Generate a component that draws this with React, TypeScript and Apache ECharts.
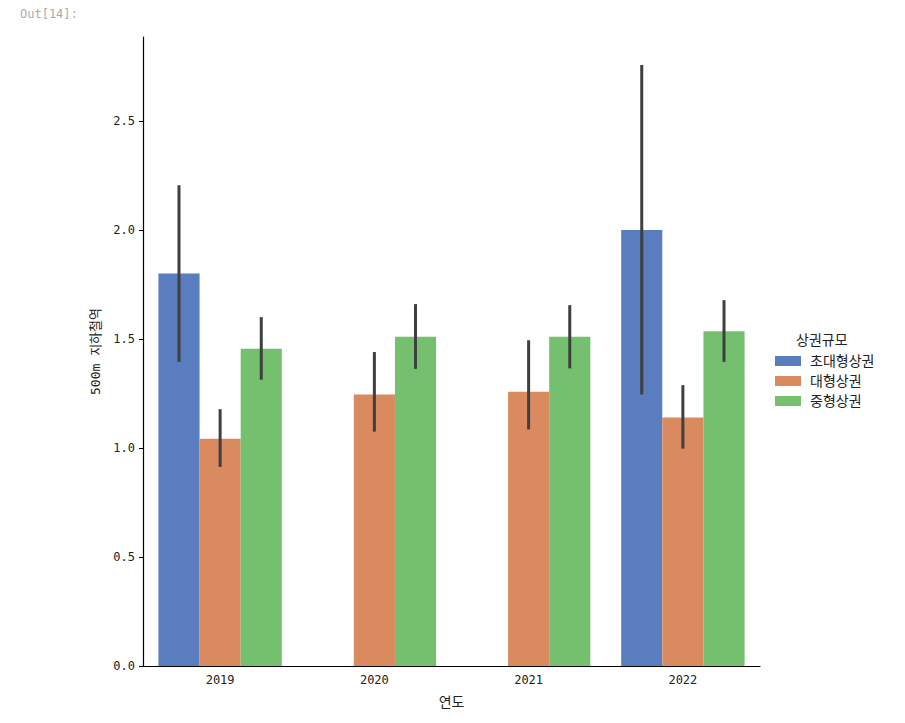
import React, { useEffect, useRef } from "react";
import * as echarts from "echarts";

const categories = ["2019", "2020", "2021", "2022"];
const seriesNames = ["초대형상권", "대형상권", "중형상권"];
const colors = ["#5a7dbf", "#d98b5f", "#74c06f"];
const meanValues: (number | null)[][] = [
  [1.8, null, null, 2.0],
  [1.042, 1.245, 1.258, 1.14],
  [1.455, 1.51, 1.51, 1.535],
];
const errLow: (number | null)[][] = [
  [1.395, null, null, 1.245],
  [0.913, 1.075, 1.085, 0.997],
  [1.313, 1.363, 1.365, 1.395],
];
const errHigh: (number | null)[][] = [
  [2.205, null, null, 2.757],
  [1.178, 1.44, 1.494, 1.288],
  [1.6, 1.66, 1.655, 1.678],
];
const yTicks = [0, 0.5, 1.0, 1.5, 2.0, 2.5];

const FONT = "'DejaVu Sans Mono', 'Noto Sans CJK KR', monospace";

export default function App() {
  const ref = useRef<HTMLDivElement>(null);
  useEffect(() => {
    const chart = echarts.init(ref.current!, null, { renderer: "svg" });
    const barSeries = seriesNames.map((name, i) => ({
      name,
      type: "bar",
      data: meanValues[i].map((v) => (v == null ? "-" : v)),
      itemStyle: { color: colors[i] },
      barGap: "0%",
      barCategoryGap: "20%",
    }));
    const errData: any[] = [];
    seriesNames.forEach((_, i) => {
      categories.forEach((_, c) => {
        const lo = errLow[i][c];
        const hi = errHigh[i][c];
        if (lo != null && hi != null) errData.push([c, lo, hi, i]);
      });
    });
    const errSeries = {
      type: "custom",
      name: "err",
      data: errData,
      encode: { x: 0, y: [1, 2] },
      z: 10,
      renderItem: (params: any, api: any) => {
        const c = api.value(0);
        const lo = api.value(1);
        const hi = api.value(2);
        const s = api.value(3);
        const band = api.size([1, 0])[0];
        const barW = (band * 0.8) / 3;
        const p1 = api.coord([c, lo]);
        const p2 = api.coord([c, hi]);
        const x = p1[0] + (s - 1) * barW;
        return {
          type: "line",
          shape: { x1: x, y1: p1[1], x2: x, y2: p2[1] },
          style: { stroke: "#3f3f3f", lineWidth: 3 },
        };
      },
    };
    chart.setOption({
      animation: false,
      textStyle: { fontFamily: FONT },
      grid: { left: 143, right: 145, top: 37, bottom: 57 },
      legend: {
        data: seriesNames,
        orient: "vertical",
        left: 770,
        top: 349,
        itemWidth: 26,
        itemHeight: 10,
        itemGap: 6,
        icon: "rect",
        textStyle: { fontSize: 14, lineHeight: 14, color: "#222", fontFamily: FONT, padding: [0, 0, 0, 4] },
      },
      graphic: [
        {
          type: "text",
          x: 20,
          y: 14,
          style: {
            text: "Out[14]:",
            fill: "#aaaaaa",
            font: `12px ${FONT}`,
            verticalAlign: "middle",
            align: "left",
          },
        },
        {
          type: "text",
          left: 796,
          top: 333,
          style: { text: "상권규모", fill: "#222", font: `14px ${FONT}` },
        },
      ],
      xAxis: {
        type: "category",
        data: categories,
        name: "연도",
        nameLocation: "middle",
        nameGap: 29,
        nameTextStyle: { fontSize: 14, color: "#222", fontFamily: FONT },
        axisLine: { lineStyle: { color: "#000", width: 1.2 } },
        axisTick: { alignWithLabel: true, length: 4, lineStyle: { color: "#000" } },
        axisLabel: { fontSize: 12, color: "#222", margin: 8 },
      },
      yAxis: {
        type: "value",
        min: 0,
        max: 2.885,
        interval: 0.5,
        name: "500m 지하철역",
        nameLocation: "middle",
        nameGap: 34,
        nameTextStyle: { fontSize: 13, color: "#222", fontFamily: FONT },
        axisLine: { show: true, lineStyle: { color: "#000", width: 1.2 } },
        axisTick: { show: true, length: 4, lineStyle: { color: "#000" }, customValues: yTicks },
        axisLabel: {
          fontSize: 12,
          color: "#222",
          margin: 8,
          customValues: yTicks,
          formatter: (v: number) => v.toFixed(1),
        },
        splitLine: { show: false },
      },
      series: [...barSeries, errSeries],
    });
    return () => chart.dispose();
  }, []);
  return <div ref={ref} style={{ width: 905, height: 723, margin: "-8px 0 0 -8px" }} />;
}
